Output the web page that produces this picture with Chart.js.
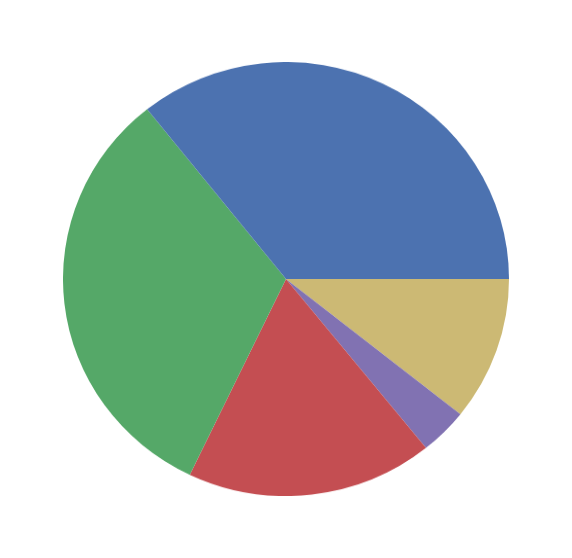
<!DOCTYPE html>
<html>
<head>
<meta charset="utf-8">
<script src="https://cdn.jsdelivr.net/npm/chart.js@4"></script>
<style>
    html, body { margin: 0; padding: 0; background: #ffffff; }
    body { width: 572px; height: 558px; position: relative; overflow: hidden; }
    #chartPie { position: absolute; left: 63px; top: 62px; width: 446px; height: 434px; }
</style>
</head>
<body>
<canvas id="chartPie" width="446" height="446" style="width:446px;height:434px"></canvas>
<script>
// Slices listed clockwise from 3 o'clock (the original runs counterclockwise)
const categories = ['E', 'D', 'C', 'B', 'A'];
const shares = [10.7, 3.5, 17.9, 32.2, 35.7];
const sliceColors = ['#CCB974', '#8172B2', '#C44E52', '#55A868', '#4C72B0'];

let chartPie;

document.addEventListener('DOMContentLoaded', function() {
    const ctxPie = document.getElementById('chartPie');
    chartPie = new Chart(ctxPie, {
        type: 'pie',
        data: {
            labels: categories,
            datasets: [{
                data: shares,
                backgroundColor: sliceColors,
                borderWidth: 0
            }]
        },
        options: {
            responsive: false,
            animation: false,
            rotation: 90,
            layout: { padding: 0 },
            plugins: {
                legend: { display: false },
                tooltip: { enabled: false }
            }
        }
    });
});
</script>
</body>
</html>
